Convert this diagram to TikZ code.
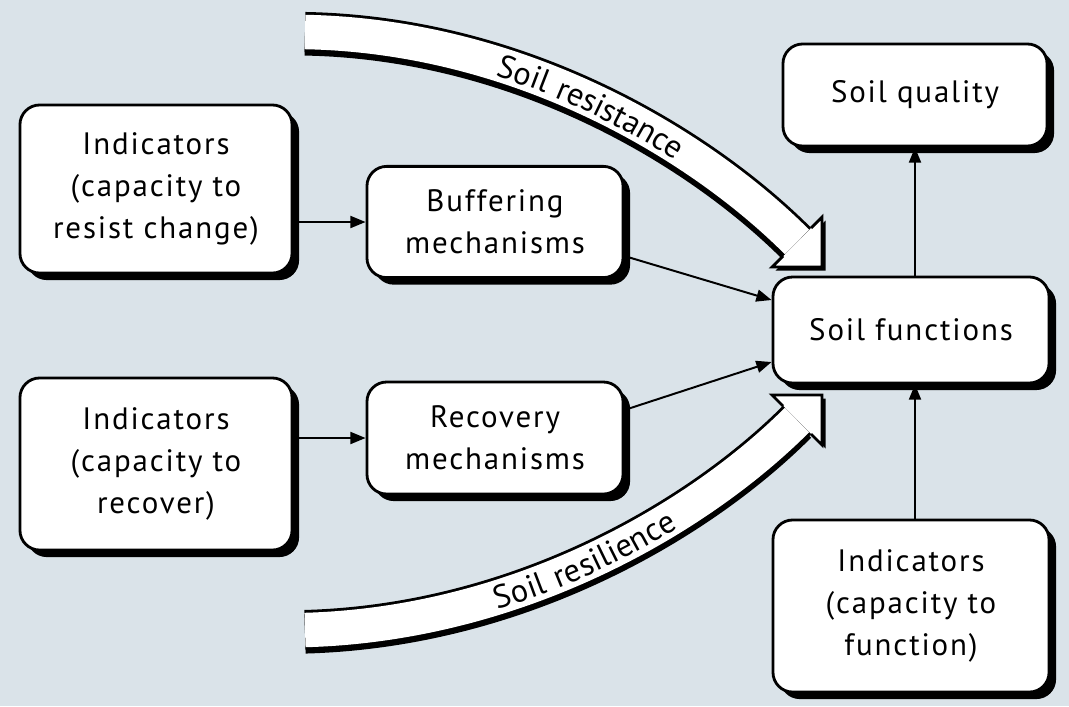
\documentclass[tikz,border=0pt]{standalone}
\usepackage{fontspec}
\setmainfont{PT Sans}[LetterSpace=6.0]
\usetikzlibrary{arrows.meta,shadows,decorations.text}
\definecolor{soilbg}{RGB}{218,227,233}
\newcommand{\bandfont}{\fontsize{23}{26}\selectfont}
\tikzset{
  soil box/.style={
    rectangle, rounded corners=14pt, draw=black, line width=2pt,
    fill=white, align=center, inner sep=2pt,
    font=\fontsize{22}{30}\selectfont,
    drop shadow={shadow xshift=5pt, shadow yshift=-5pt, fill=black, opacity=1}
  },
  soil link/.style={-{Triangle[length=3.8mm,width=3mm]}, line width=1.4pt},
  band edge/.style={black, line width=28.5pt},
  band core/.style={white, line width=24.5pt},
  band label/.style={decorate, decoration={text along path,
    text align={align=center, left indent=#1},
    raise=-8.5pt}}
}
% centre lines of the two broad arrows
\newcommand{\resistpath}{(305,32) .. controls (520,36) and (700,145) .. (797,242)}
\newcommand{\resilpath}{(305,630) .. controls (520,624) and (700,517) .. (797,420)}

\begin{document}
\begin{tikzpicture}[x=0.025cm, y=-0.025cm]
    \fill[soilbg] (0,0) rectangle (1069,706);
    \useasboundingbox (0,0) rectangle (1069,706);
    % broad arrows: shadow first
    \begin{scope}[yshift=-2.5pt]
      \draw[band edge] \resistpath;
      \draw[band edge] \resilpath;
    \end{scope}
    \begin{scope}[xshift=2.5pt, yshift=-2.5pt]
      \fill (822,267) -- (822,217) -- (772,267) -- cycle;
      \fill (822,395) -- (822,445) -- (772,395) -- cycle;
    \end{scope}
    \fill[white] (822,267) -- (822,217) -- (772,267) -- cycle;
    \fill[white] (822,395) -- (822,445) -- (772,395) -- cycle;
    \draw[band edge] \resistpath;
    \draw[band core] \resistpath;
    \draw[band edge] \resilpath;
    \draw[band core] \resilpath;
    \draw[line width=2pt, line join=miter] (811,228) -- (822,217) -- (822,267) -- (772,267) -- (783,256);
    \draw[line width=2pt, line join=miter] (783,406) -- (772,395) -- (822,395) -- (822,445) -- (811,434);
    \path[band label=36pt, decoration={text={|\bandfont|Soil resistance}}] \resistpath;
    \path[band label=24pt, decoration={text={|\bandfont|Soil resilience}}] \resilpath;
    % boxes
    \node[soil box, minimum width=6.8cm, minimum height=4.2cm] (resist) at (156,189) {Indicators\\(capacity to\\resist change)};
    \node[soil box, minimum width=6.8cm, minimum height=4.3cm] (recover) at (156,464) {Indicators\\(capacity to\\recover)};
    \node[soil box, minimum width=6.4cm, minimum height=2.78cm] (buffer) at (495,222) {Buffering\\mechanisms};
    \node[soil box, minimum width=6.4cm, minimum height=2.8cm] (recovery) at (495,438) {Recovery\\mechanisms};
    \node[soil box, minimum width=6.6cm, minimum height=2.55cm] (quality) at (915,95) {Soil quality};
    \node[soil box, minimum width=6.9cm, minimum height=2.65cm] (functions) at (911,330) {Soil functions};
    \node[soil box, minimum width=6.9cm, minimum height=4.3cm] (fcap) at (911,606) {Indicators\\(capacity to\\function)};
    % links
    \draw[soil link] (resist.east |- buffer) -- (buffer.west);
    \draw[soil link] (recover.east |- recovery) -- (recovery.west);
    \draw[soil link] ([yshift=-0.85cm]buffer.east) -- ([yshift=0.75cm]functions.west);
    \draw[soil link] ([yshift=0.7cm]recovery.east) -- ([yshift=-0.8cm]functions.west);
    \draw[soil link] (functions.north -| quality) -- (quality.south);
    \draw[soil link] (fcap.north -| quality) -- (functions.south -| quality);
  \end{tikzpicture}
\end{document}
